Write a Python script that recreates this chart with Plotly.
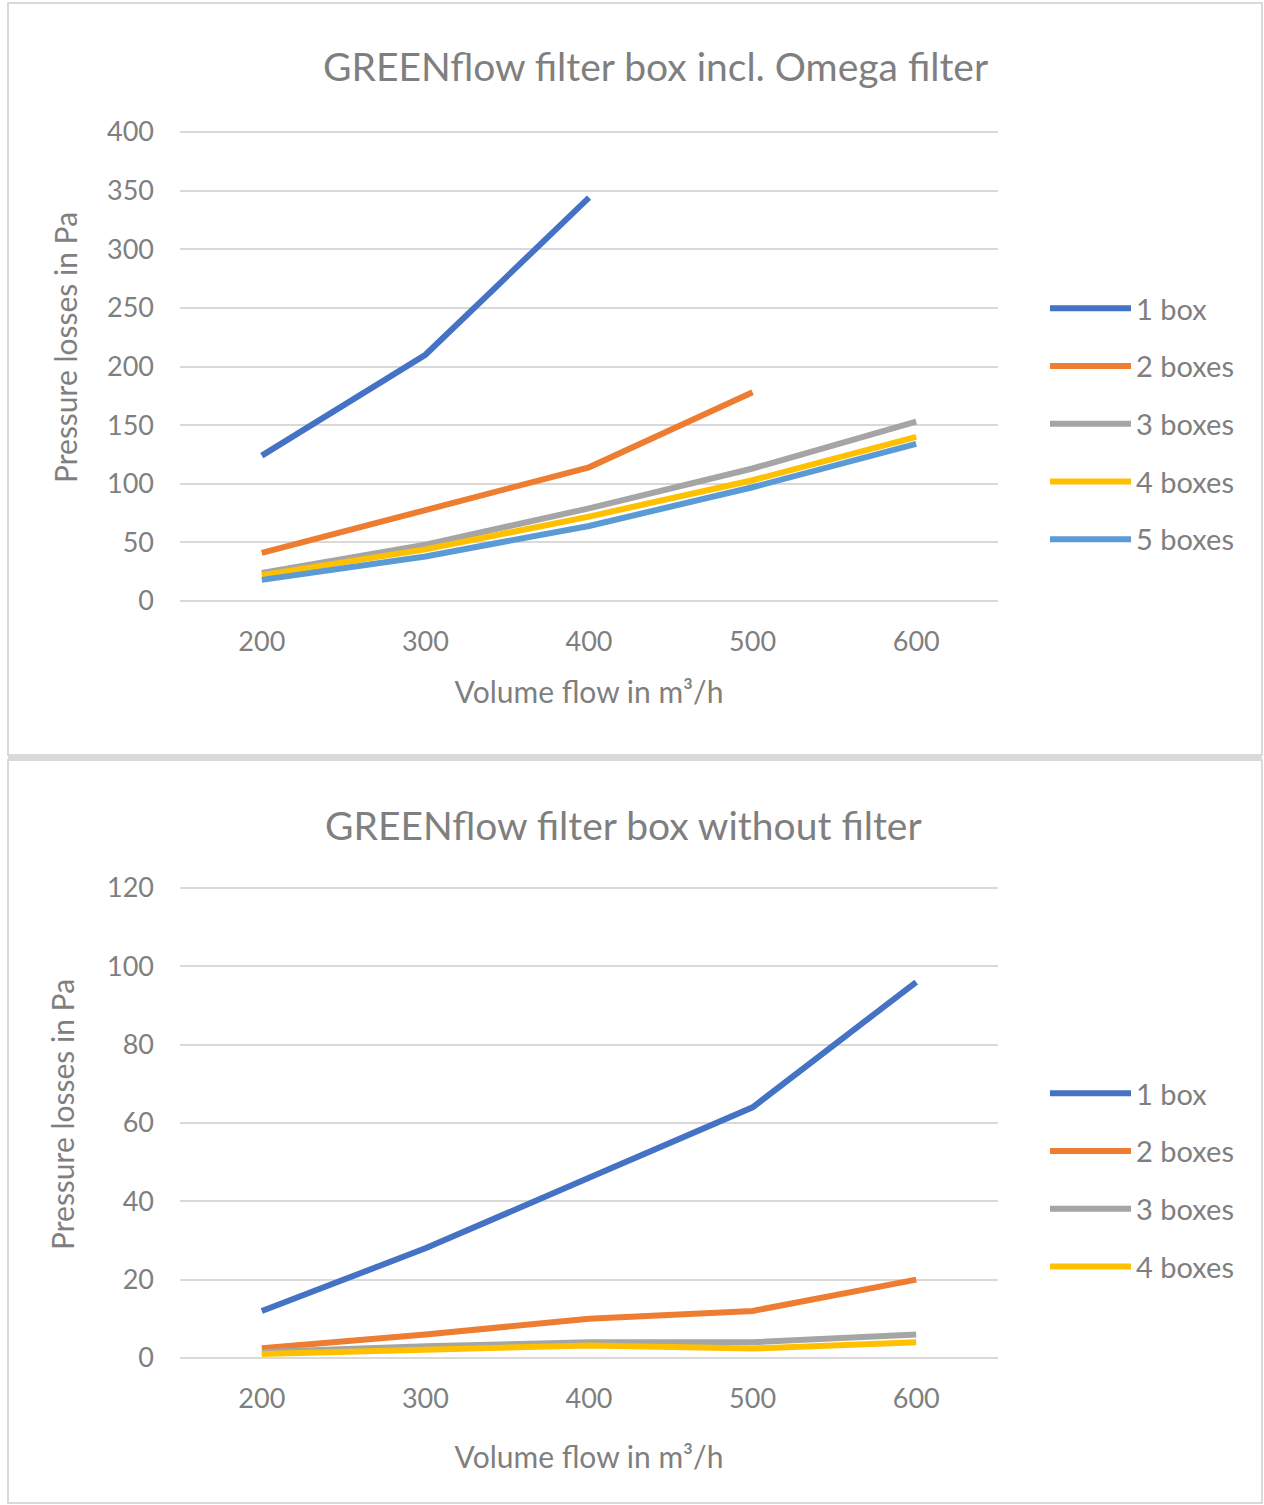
import plotly.graph_objects as go

# ---------------- data ----------------
flow = [200, 300, 400, 500, 600]

top_title = "GREENflow filter box incl. Omega filter"
bot_title = "GREENflow filter box without filter"
x_title = "Volume flow in m³/h"
y_title = "Pressure losses in Pa"

top_names = ["1 box", "2 boxes", "3 boxes", "4 boxes", "5 boxes"]
top_1box = [124, 210, 344, None, None]
top_2box = [41, 78, 114, 178, None]
top_3box = [24, 48, 79, 113, 153]
top_4box = [22, 44, 72, 103, 140]
top_5box = [18, 38, 64, 97, 134]
top_series = [top_1box, top_2box, top_3box, top_4box, top_5box]
top_yticks = [0, 50, 100, 150, 200, 250, 300, 350, 400]

bot_names = ["1 box", "2 boxes", "3 boxes", "4 boxes"]
bot_1box = [12, 28, 46, 64, 96]
bot_2box = [2.5, 6, 10, 12, 20]
bot_3box = [1.5, 3, 4, 4, 6]
bot_4box = [1, 2.2, 3.2, 2.4, 4]
bot_series = [bot_1box, bot_2box, bot_3box, bot_4box]
bot_yticks = [0, 20, 40, 60, 80, 100, 120]

colors = ["#4472C4", "#ED7D31", "#A5A5A5", "#FFC000", "#5B9BD5"]

W, H = 1264, 1505
FONT = "Lato"
TXT = "#7F7F7F"
GRID = "#D9D9D9"


def py(p):
    return 1 - p / H


def px(p):
    return p / W


fig = go.Figure()

for i, (name, vals) in enumerate(zip(top_names, top_series)):
    fig.add_trace(go.Scatter(
        x=flow, y=vals, name=name, mode="lines",
        line=dict(color=colors[i], width=6),
        xaxis="x", yaxis="y", legend="legend",
        legendgroup="t%d" % i, connectgaps=False,
        hoverinfo="x+y+name"))

for i, (name, vals) in enumerate(zip(bot_names, bot_series)):
    fig.add_trace(go.Scatter(
        x=flow, y=vals, name=name, mode="lines",
        line=dict(color=colors[i], width=6),
        xaxis="x2", yaxis="y2", legend="legend2",
        legendgroup="b%d" % i,
        hoverinfo="x+y+name"))

xcommon = dict(
    range=[150, 650], tickvals=flow, ticktext=[str(v) for v in flow],
    showgrid=False, zeroline=False, showline=False, automargin=False,
    tickfont=dict(family=FONT, size=27, color=TXT),
    ticklabelstandoff=19,
    domain=[px(180), px(998)],
)
ycommon = dict(
    showgrid=True, gridcolor=GRID, gridwidth=2, zeroline=False,
    showline=False, automargin=False,
    tickfont=dict(family=FONT, size=27, color=TXT),
    ticklabelstandoff=25,
)
tfont = dict(family=FONT, size=30, color=TXT)

fig.update_layout(
    template="none",
    width=W, height=H, autosize=False,
    margin=dict(l=0, r=0, t=0, b=0, pad=0),
    paper_bgcolor="white", plot_bgcolor="white",
    showlegend=True,
    xaxis=dict(**xcommon, anchor="y",
               title=dict(text=x_title, standoff=26, font=tfont)),
    yaxis=dict(**ycommon, range=[-2.4, 402.4], tickvals=top_yticks,
               anchor="x", domain=[py(603.8), py(129.2)]),
    xaxis2=dict(**xcommon, anchor="y2",
                title=dict(text=x_title, standoff=34, font=tfont)),
    yaxis2=dict(**ycommon, range=[-0.7, 120.7], tickvals=bot_yticks,
                anchor="x2", domain=[py(1360.7), py(885.3)]),
    legend=dict(x=px(1045), y=py(424), xanchor="left", yanchor="middle",
                font=dict(family=FONT, size=29, color=TXT),
                tracegroupgap=17, itemwidth=81, bgcolor="rgba(0,0,0,0)"),
    legend2=dict(x=px(1045), y=py(1180), xanchor="left", yanchor="middle",
                 font=dict(family=FONT, size=29, color=TXT),
                 tracegroupgap=17, itemwidth=81, bgcolor="rgba(0,0,0,0)"),
    annotations=[
        dict(text=top_title, x=px(655), y=py(66), xref="paper", yref="paper",
             showarrow=False, xanchor="center", yanchor="middle",
             font=dict(family=FONT, size=39, color=TXT)),
        dict(text=bot_title, x=px(623), y=py(825), xref="paper", yref="paper",
             showarrow=False, xanchor="center", yanchor="middle",
             font=dict(family=FONT, size=39, color=TXT)),
        dict(text=y_title, x=px(65), y=py(348), xref="paper", yref="paper",
             showarrow=False, xanchor="center", yanchor="middle",
             textangle=-90, font=tfont),
        dict(text=y_title, x=px(62), y=py(1115), xref="paper", yref="paper",
             showarrow=False, xanchor="center", yanchor="middle",
             textangle=-90, font=tfont),
    ],
    shapes=[
        dict(type="rect", xref="paper", yref="paper",
             x0=px(8), x1=px(1262), y0=py(755), y1=py(3),
             line=dict(color=GRID, width=2), layer="below"),
        dict(type="rect", xref="paper", yref="paper",
             x0=px(8), x1=px(1262), y0=py(1503), y1=py(760),
             line=dict(color=GRID, width=2), layer="below"),
        dict(type="rect", xref="paper", yref="paper",
             x0=px(8), x1=px(1262), y0=py(760), y1=py(755),
             fillcolor=GRID, line=dict(width=0), layer="below"),
    ],
)

fig.write_html("out.html", config={"responsive": False, "displayModeBar": False},
               post_script="document.body.style.margin='0';document.body.style.overflow='hidden';")
